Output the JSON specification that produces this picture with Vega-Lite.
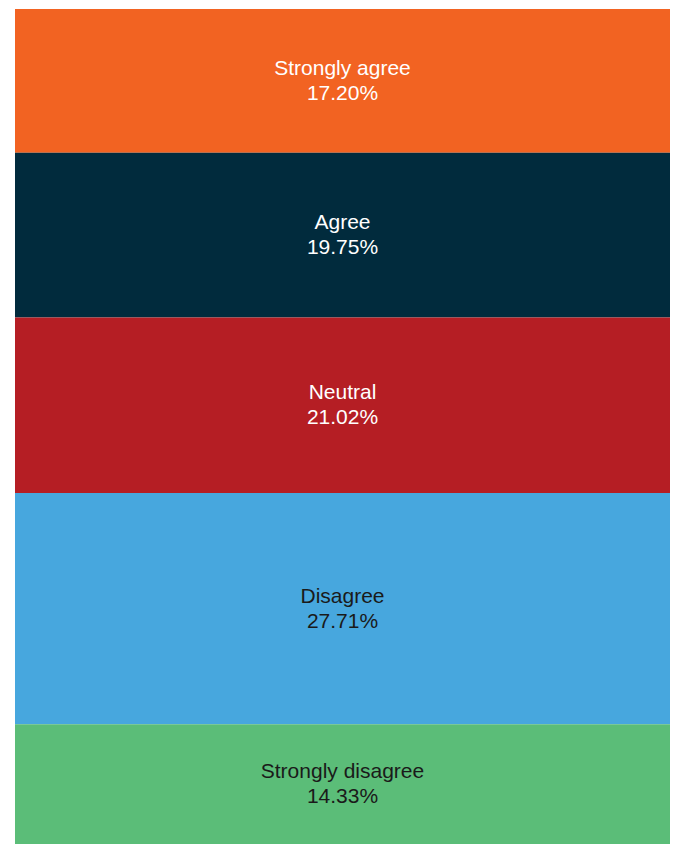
{
  "$schema": "https://vega.github.io/schema/vega-lite/v6.json",
  "width": 655,
  "height": 837,
  "autosize": {"type": "none"},
  "padding": {"left": 15, "top": 7, "right": 3, "bottom": 0},
  "background": "#ffffff",
  "config": {"view": {"stroke": null}},
  "data": {
    "values": [
      {"category": "Strongly agree", "pct": 17.20, "order": 1},
      {"category": "Agree", "pct": 19.75, "order": 2},
      {"category": "Neutral", "pct": 21.02, "order": 3},
      {"category": "Disagree", "pct": 27.71, "order": 4},
      {"category": "Strongly disagree", "pct": 14.33, "order": 5}
    ]
  },
  "transform": [
    {"stack": "pct", "groupby": [], "sort": [{"field": "order", "order": "ascending"}], "as": ["y0", "y1"]},
    {"calculate": "(datum.y0 + datum.y1) / 2", "as": "mid"},
    {"calculate": "[datum.category, format(datum.pct, '.2f') + '%']", "as": "label"}
  ],
  "encoding": {},
  "layer": [
    {
      "mark": {"type": "bar", "stroke": null},
      "encoding": {
        "x": {"datum": 0, "type": "quantitative", "scale": {"domain": [0, 1], "nice": false, "zero": false}, "axis": null},
        "x2": {"datum": 1},
        "y": {"field": "y0", "type": "quantitative", "scale": {"domain": [-0.25, 100.01], "reverse": true, "nice": false, "zero": false}, "axis": null},
        "y2": {"field": "y1"},
        "color": {
          "field": "category", "type": "nominal",
          "scale": {
            "domain": ["Strongly agree", "Agree", "Neutral", "Disagree", "Strongly disagree"],
            "range": ["#F26322", "#012B3D", "#B51E24", "#47A7DE", "#5BBD78"]
          },
          "legend": null
        }
      }
    },
    {
      "mark": {"type": "text", "font": "Liberation Sans", "fontSize": 21, "lineHeight": 25, "baseline": "middle", "align": "center", "dy": -12},
      "encoding": {
        "x": {"datum": 0.5, "type": "quantitative", "scale": {"domain": [0, 1], "nice": false, "zero": false}, "axis": null},
        "y": {"field": "mid", "type": "quantitative", "scale": {"domain": [-0.25, 100.01], "reverse": true, "nice": false, "zero": false}, "axis": null},
        "text": {"field": "label"},
        "color": {
          "field": "category", "type": "nominal",
          "scale": {
            "domain": ["Strongly agree", "Agree", "Neutral", "Disagree", "Strongly disagree"],
            "range": ["#ffffff", "#ffffff", "#ffffff", "#1a1a1a", "#1a1a1a"]
          },
          "legend": null
        }
      }
    }
  ],
  "resolve": {"scale": {"color": "independent"}}
}
